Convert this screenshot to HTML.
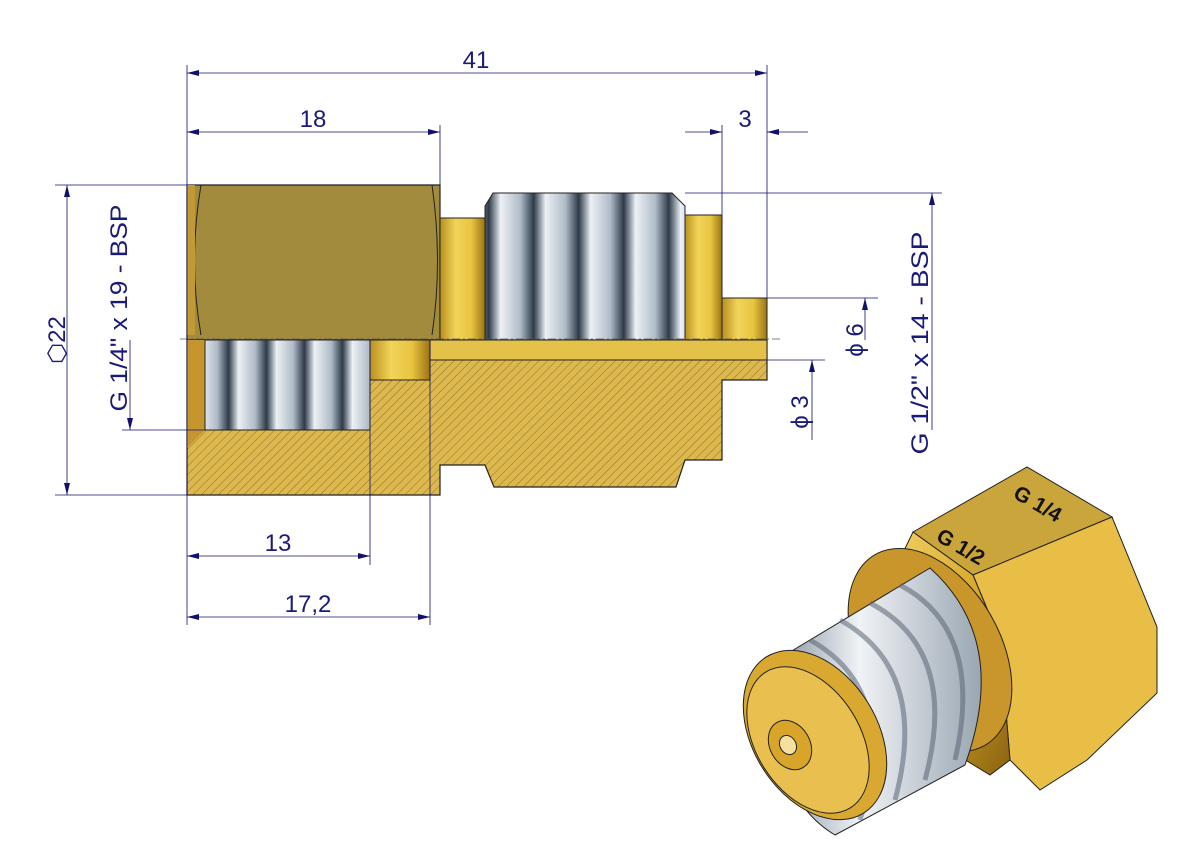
<!DOCTYPE html>
<html><head><meta charset="utf-8"><style>
html,body{margin:0;padding:0;background:#fff}
svg{display:block}
text{font-family:"Liberation Sans",sans-serif;fill:#1a1a78}
</style></head><body>
<svg width="1191" height="842" viewBox="0 0 1191 842" xmlns="http://www.w3.org/2000/svg">
<defs>
<pattern id="hatch" width="6" height="6" patternUnits="userSpaceOnUse" patternTransform="rotate(45)">
<rect width="6" height="6" fill="#ddb84e"/><line x1="0" y1="0" x2="0" y2="6" stroke="#7a5e18" stroke-width="0.8"/>
</pattern>
<linearGradient id="brassV" x1="0" y1="0" x2="1" y2="0">
<stop offset="0" stop-color="#b8901e"/><stop offset="0.35" stop-color="#f2d45a"/><stop offset="0.7" stop-color="#e8c440"/><stop offset="1" stop-color="#9a7414"/></linearGradient>
<linearGradient id="silver" x1="0" y1="0" x2="1" y2="0" spreadMethod="repeat">
<stop offset="0" stop-color="#eef2f6"/><stop offset="0.45" stop-color="#b0bcc8"/><stop offset="0.75" stop-color="#2e3a48"/><stop offset="1" stop-color="#dfe6ec"/></linearGradient>
<pattern id="thr" width="45" height="10" patternUnits="userSpaceOnUse" x="5">
<rect width="45" height="10" fill="url(#silver)"/></pattern>
<pattern id="thr2" width="38" height="10" patternUnits="userSpaceOnUse" x="10">
<rect width="38" height="10" fill="url(#silver)"/></pattern>
<linearGradient id="br3" x1="0" y1="0" x2="1" y2="1">
<stop offset="0" stop-color="#f4d46a"/><stop offset="0.5" stop-color="#d8a828"/><stop offset="1" stop-color="#8a6210"/></linearGradient>
<linearGradient id="sil3" x1="0" y1="0" x2="1" y2="0">
<stop offset="0" stop-color="#8a96a4"/><stop offset="0.4" stop-color="#f0f3f6"/><stop offset="1" stop-color="#9aa6b2"/></linearGradient>
<marker id="a" viewBox="0 0 12 6" refX="12" refY="3" markerWidth="14" markerHeight="6" orient="auto-start-reverse" markerUnits="userSpaceOnUse"><path d="M0,0L12,3L0,6z" fill="#10106e"/></marker>
</defs>

<!-- upper hex body -->
<path d="M187,185H440V340H187z" fill="#a38b3e" stroke="#222" stroke-width="1.2"/>
<path d="M201,185Q188,262 201,335 M432,185Q443,262 432,335" fill="none" stroke="#222" stroke-width="1"/>
<rect x="187" y="185" width="8" height="150" fill="#c19a36"/>
<rect x="440" y="218" width="45" height="122" fill="url(#brassV)" stroke="#222"/>
<path d="M493,193H672L685,206V340H485V206z" fill="url(#thr)" stroke="#222"/>
<rect x="685" y="215" width="37" height="125" fill="url(#brassV)" stroke="#222"/>
<rect x="722" y="298" width="45" height="42" fill="url(#brassV)" stroke="#222"/>
<!-- lower hatched -->
<path d="M187,340H767V380H722V460H685L676,487H494L485,465H440V495H187z" fill="url(#hatch)" stroke="#222" stroke-width="1.2"/>
<path d="M187,340H205V430L187,448z" fill="#c6962e"/>
<rect x="205" y="340" width="165" height="90" fill="url(#thr2)" stroke="#222"/>
<rect x="370" y="340" width="60" height="40" fill="url(#brassV)" stroke="#222"/>
<rect x="430" y="340" width="337" height="20" fill="#e4c24a" stroke="#222"/>
<line x1="180" y1="339" x2="780" y2="339" stroke="#555" stroke-dasharray="8,3,2,3" stroke-width="0.7"/>

<!-- dimensions -->
<g stroke="#10106e" stroke-width="0.8" fill="none">
<line x1="187" y1="65" x2="187" y2="625"/>
<line x1="767" y1="65" x2="767" y2="298"/>
<line x1="440" y1="125" x2="440" y2="185"/>
<line x1="722" y1="125" x2="722" y2="215"/>
<line x1="370" y1="340" x2="370" y2="565"/>
<line x1="430" y1="340" x2="430" y2="625"/>
<line x1="55" y1="185" x2="187" y2="185"/>
<line x1="55" y1="495" x2="187" y2="495"/>
<line x1="122" y1="430" x2="205" y2="430"/>
<line x1="685" y1="193" x2="942" y2="193"/>
<line x1="767" y1="298" x2="878" y2="298"/>
<line x1="767" y1="360" x2="825" y2="360"/>
<line x1="187" y1="73" x2="767" y2="73" marker-start="url(#a)" marker-end="url(#a)"/>
<line x1="187" y1="132" x2="440" y2="132" marker-start="url(#a)" marker-end="url(#a)"/>
<line x1="685" y1="132" x2="722" y2="132" marker-end="url(#a)"/>
<line x1="808" y1="132" x2="767" y2="132" marker-end="url(#a)"/>
<line x1="187" y1="556" x2="370" y2="556" marker-start="url(#a)" marker-end="url(#a)"/>
<line x1="187" y1="617" x2="430" y2="617" marker-start="url(#a)" marker-end="url(#a)"/>
<line x1="67" y1="185" x2="67" y2="495" marker-start="url(#a)" marker-end="url(#a)"/>
<line x1="130" y1="340" x2="130" y2="430" marker-end="url(#a)"/>
<line x1="932" y1="430" x2="932" y2="193" marker-end="url(#a)"/>
<line x1="865" y1="340" x2="865" y2="298" marker-end="url(#a)"/>
<line x1="812" y1="440" x2="812" y2="360" marker-end="url(#a)"/>
</g>
<g font-size="24">
<text x="476" y="68" text-anchor="middle">41</text>
<text x="313" y="127" text-anchor="middle">18</text>
<text x="745" y="127" text-anchor="middle">3</text>
<text x="278" y="551" text-anchor="middle">13</text>
<text x="308" y="612" text-anchor="middle">17,2</text>
<text transform="translate(65,340) rotate(-90)" text-anchor="middle">⬡22</text>
<text transform="translate(127,308) rotate(-90)" text-anchor="middle" textLength="207" lengthAdjust="spacingAndGlyphs">G 1/4" x 19 - BSP</text>
<text transform="translate(928,343) rotate(-90)" text-anchor="middle" textLength="223" lengthAdjust="spacingAndGlyphs">G 1/2" x 14 - BSP</text>
<text transform="translate(863,340) rotate(-90)" text-anchor="middle">ϕ 6</text>
<text transform="translate(808,412) rotate(-90)" text-anchor="middle">ϕ 3</text>
</g>

<!-- 3D view -->
<g stroke="#222" stroke-width="1">
<path d="M913,532L1027,467L1112,517L973,575z" fill="#caa53c"/>
<path d="M973,575L1112,517L1157,627L1157,693L1087,760L1040,790L1010,760L1000,640z" fill="#e8be46"/>
<path d="M913,532L973,575L1000,640L1010,760L990,775L900,720L880,600z" fill="url(#br3)"/>
<ellipse cx="930" cy="650" rx="70" ry="110" transform="rotate(-30 930 650)" fill="#c8962a"/>
<path d="M785,655L930,568Q1010,640 965,765L835,835Q760,790 785,655z" fill="url(#sil3)"/>
<g fill="none" stroke="#5a6674" stroke-width="5" opacity="0.55">
<path d="M810,640Q900,690 860,820"/><path d="M840,620Q930,670 895,800"/><path d="M870,603Q960,650 925,780"/><path d="M900,585Q985,630 955,760"/></g>
<ellipse cx="815" cy="735" rx="62" ry="92" transform="rotate(-32 815 735)" fill="#d8a830"/>
<ellipse cx="808" cy="740" rx="52" ry="80" transform="rotate(-32 808 740)" fill="#e9c050"/>
<ellipse cx="790" cy="745" rx="20" ry="26" transform="rotate(-30 790 745)" fill="#d8a42a"/>
<ellipse cx="788" cy="745" rx="8" ry="10" transform="rotate(-30 788 745)" fill="#f6e0a0"/>
</g>
<g font-size="21" font-weight="bold">
<text transform="translate(1012,497) rotate(30)" style="fill:#111">G 1/4</text>
<text transform="translate(935,540) rotate(30)" style="fill:#111">G 1/2</text>
</g>
</svg>
</body></html>
